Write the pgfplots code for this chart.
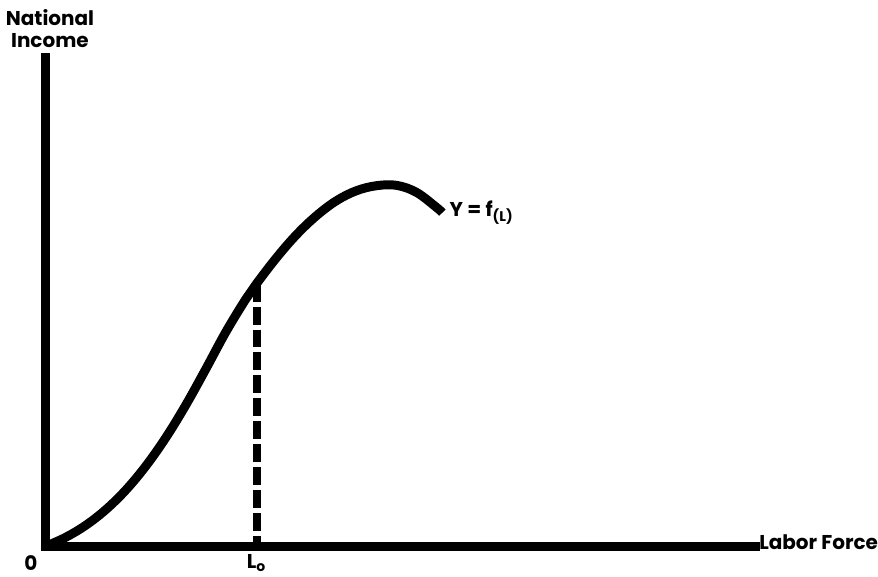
\documentclass[border=0pt]{standalone}
\usepackage{pgfplots}
\pgfplotsset{compat=1.18}
\usepackage{fontspec}
\setmainfont{Poppins}
\begin{document}
\begin{tikzpicture}[lbl/.style={font=\fontsize{10}{11}\selectfont\bfseries, inner sep=0pt}]
\begin{axis}[
  at={(0,0)}, anchor=origin,
  x=0.5pt, y=0.5pt,
  xmin=0, xmax=711, ymin=0, ymax=489,
  axis lines=left,
  axis line style={-, line width=4.5pt, line cap=rect},
  xtick=\empty, ytick=\empty,
  clip=false,
]
% production function Y = f(L)
\addplot[black, line width=4.5pt, smooth, tension=0.6] coordinates {
  (0,0) (20,9) (40,21) (60,36.6) (80,56.2) (100,80.2) (120,108.6)
  (140,141.2) (160,177.2) (180,214.2) (200,247.2) (211,263)
  (231,289) (251,312) (271,331) (291,346) (311,356) (331,361)
  (351,361.4) (371,354.4) (391,339.4) (397,334)
};
% labour force L_o
\addplot[black, line width=4pt, dash pattern=on 9pt off 2.5pt] coordinates {
  (211,263) (211,0)
};
\node[lbl, align=center] at (axis cs:4,518) {National\\Income};
\node[lbl] at (axis cs:-15,-17) {0};
\node[lbl] at (axis cs:211,-17) {L\textsubscript{o}};
\node[lbl, anchor=west] at (axis cs:714,4) {Labor Force};
\node[lbl, anchor=west] at (axis cs:404,334) {Y = f\textsubscript{(L)}};
\end{axis}
\path (-23pt,-15pt) rectangle (416pt,273.5pt);
\end{tikzpicture}
\end{document}
